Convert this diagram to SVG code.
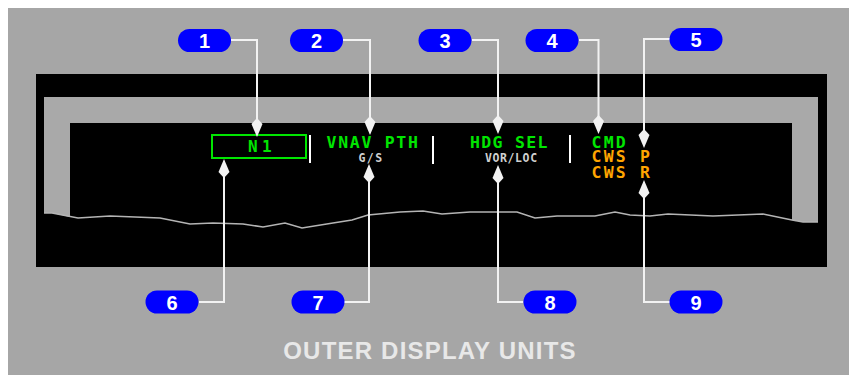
<svg xmlns="http://www.w3.org/2000/svg" width="849" height="375" viewBox="0 0 849 375">
<style>
.pill{fill:#0000ff}
.num{font-family:"Liberation Sans",Arial,sans-serif;font-weight:bold;font-size:20px;fill:#ffffff;text-anchor:middle}
.conn{fill:none;stroke:#f2f2f2;stroke-width:2;marker-end:url(#arr)}
.mono{font-family:"DejaVu Sans Mono","Liberation Mono",monospace;font-weight:bold}
.grn{fill:#00e600;font-size:16.5px}
.org{fill:#ffa500;font-size:16.5px;letter-spacing:2.2px}
.sml{fill:#d0d0d0;font-size:11.5px}
.sep{stroke:#ffffff;stroke-width:2}
</style>
<defs>
<marker id="arr" markerUnits="userSpaceOnUse" viewBox="-18 -7 22 14" markerWidth="22" markerHeight="14" refX="0" refY="0" orient="auto">
<path d="M3,0 L-10,-5.5 L-16,0 L-10,5.5 Z" fill="#f2f2f2"/>
</marker>
</defs>
<rect x="0" y="0" width="849" height="375" fill="#ffffff"/>
<rect x="8" y="8" width="841" height="367" fill="#a6a6a6"/>
<g id="display">
<rect x="36" y="74" width="791" height="193" fill="#000000"/>
<path d="M44,97 H818 V222 H803 L792,220 V123 H70 V217 L52,213 H44 Z" fill="#a9a9a9"/>
<polyline points="44,213 52,213 78,218 110,216 160,218 190,224 213,223 243,224 263,227 285,223 302,228 333,223 352,220 368,215 400,212 423,211 442,214 470,212 517,212 535,218 557,216 595,216 615,212 630,215 650,216 668,214 713,216 763,214 792,220 803,222 818,222" fill="none" stroke="#b4b4b4" stroke-width="1.6"/>
<line class="sep" x1="310" y1="135" x2="310" y2="163"/>
<line class="sep" x1="433" y1="136" x2="433" y2="164"/>
<line class="sep" x1="570" y1="135" x2="570" y2="163"/>
<rect x="212" y="135" width="94" height="23" fill="none" stroke="#00e600" stroke-width="2"/>
<text class="mono grn" x="248" y="152" style="font-size:16px;letter-spacing:4.3px">N1</text>
<text class="mono grn" x="326.5" y="148" style="letter-spacing:1.7px">VNAV PTH</text>
<text class="mono sml" x="358.5" y="161.5" style="letter-spacing:1.4px">G/S</text>
<text class="mono grn" x="470" y="148" style="letter-spacing:1.3px">HDG SEL</text>
<text class="mono sml" x="485" y="161.7" style="letter-spacing:0.6px">VOR/LOC</text>
<text class="mono grn" x="591.5" y="148" style="letter-spacing:2.2px">CMD</text>
<text class="mono org" x="591.5" y="162">CWS P</text>
<text class="mono org" x="591.5" y="178">CWS R</text>
</g>
<g id="connectors">
<path class="conn" d="M231,40 H257 V134"/>
<path class="conn" d="M343,40 H370 V132"/>
<path class="conn" d="M472,40 H498 V131"/>
<path class="conn" d="M579,40 H598.5 V131"/>
<path class="conn" d="M670,39 H644 V145"/>
<path class="conn" d="M199,302 H224 V162"/>
<path class="conn" d="M344,302 H369 V167"/>
<path class="conn" d="M523,302 H498 V168"/>
<path class="conn" d="M670,302 H644 V183"/>
</g>
<g id="c1"><rect class="pill" x="178" y="29" width="53" height="23" rx="11.5"/><text class="num" x="204.5" y="48">1</text></g>
<g id="c2"><rect class="pill" x="290" y="29" width="53" height="23" rx="11.5"/><text class="num" x="316.5" y="48">2</text></g>
<g id="c3"><rect class="pill" x="418.5" y="29" width="53" height="23" rx="11.5"/><text class="num" x="445" y="48">3</text></g>
<g id="c4"><rect class="pill" x="525.5" y="29" width="53" height="23" rx="11.5"/><text class="num" x="552" y="48">4</text></g>
<g id="c5"><rect class="pill" x="669.5" y="28" width="53" height="23" rx="11.5"/><text class="num" x="696" y="47">5</text></g>
<g id="c6"><rect class="pill" x="145.5" y="290.5" width="53" height="23" rx="11.5"/><text class="num" x="172" y="309.5">6</text></g>
<g id="c7"><rect class="pill" x="291.5" y="290.5" width="53" height="23" rx="11.5"/><text class="num" x="318" y="309.5">7</text></g>
<g id="c8"><rect class="pill" x="523.5" y="290.5" width="53" height="23" rx="11.5"/><text class="num" x="550" y="309.5">8</text></g>
<g id="c9"><rect class="pill" x="669.5" y="290.5" width="53" height="23" rx="11.5"/><text class="num" x="696" y="309.5">9</text></g>
<text id="title" x="430" y="359" text-anchor="middle" font-family="'Liberation Sans',Arial,sans-serif" font-weight="bold" font-size="24" letter-spacing="1.2" fill="#e8e8e8">OUTER DISPLAY UNITS</text>
</svg>
